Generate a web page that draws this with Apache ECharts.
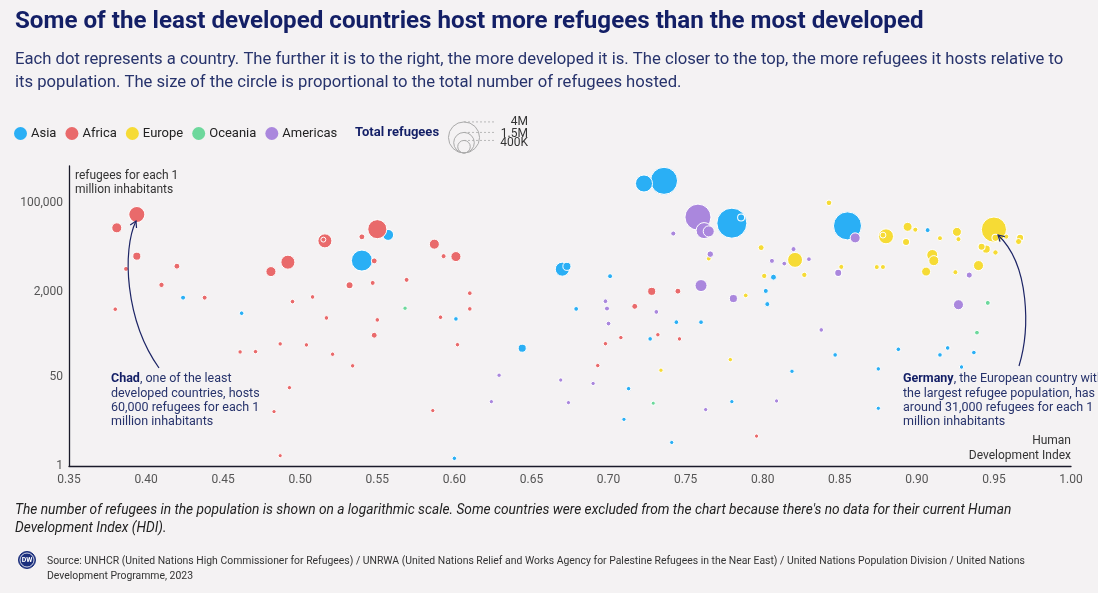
<!DOCTYPE html>
<html>
<head>
<meta charset="utf-8">
<script src="https://cdn.jsdelivr.net/npm/echarts@6/dist/echarts.min.js"></script>
<style>
html,body{margin:0;padding:0;background:#f4f2f3;}
#chart{width:1098px;height:593px;}
</style>
</head>
<body>
<div id="chart"></div>
<script>
// ---------- DATA: [Human Development Index, refugees per 1 million inhabitants, total refugees (thousands)] ----------
const continents = ['Asia', 'Africa', 'Europe', 'Oceania', 'Americas'];
const asia = [
  [0.723, 233000, 930], [0.736, 262000, 2900], [0.780, 41100, 3700], [0.786, 52500, 50],
  [0.855, 36500, 3150], [0.907, 30300, 5], [0.540, 8000, 1580], [0.557, 24600, 270],
  [0.670, 5490, 550], [0.673, 6210, 90], [0.701, 4040, 5], [0.424, 1580, 5],
  [0.462, 800, 2], [0.601, 623, 2], [0.600, 1.4, 1], [0.644, 173, 90],
  [0.679, 966, 3], [0.744, 540, 3], [0.760, 540, 3], [0.727, 260, 2],
  [0.802, 2120, 6], [0.803, 1190, 6], [0.807, 3870, 20], [0.847, 129, 2],
  [0.888, 165, 2], [0.915, 129, 2], [0.920, 175, 2], [0.937, 143, 2],
  [0.929, 76, 1], [0.875, 70, 1], [0.819, 63, 1], [0.713, 29.5, 1],
  [0.780, 16.7, 0.5], [0.875, 12.5, 0.3], [0.710, 7.7, 0.5], [0.741, 2.8, 0.3]
];
const africa = [
  [0.394, 60000, 800], [0.381, 33500, 200], [0.394, 9700, 90], [0.387, 5560, 5],
  [0.420, 6260, 20], [0.410, 2760, 10], [0.438, 1580, 5], [0.380, 953, 2],
  [0.481, 4940, 200], [0.492, 7460, 550], [0.516, 18950, 550], [0.515, 20000, 5],
  [0.540, 22600, 20], [0.550, 31600, 1240], [0.548, 7890, 20], [0.532, 2720, 50],
  [0.547, 3010, 5], [0.569, 3440, 5], [0.587, 16400, 200], [0.593, 9700, 6],
  [0.601, 9530, 200], [0.495, 1330, 2], [0.508, 1630, 2], [0.517, 651, 2],
  [0.550, 597, 2], [0.548, 305, 20], [0.591, 671, 2], [0.610, 1920, 3],
  [0.610, 966, 2], [0.602, 202, 1], [0.461, 147, 1], [0.471, 149, 1],
  [0.487, 209, 1], [0.504, 200, 1], [0.521, 133, 1], [0.534, 80, 1],
  [0.493, 30.8, 0.5], [0.483, 10.8, 0.3], [0.586, 11.3, 0.3], [0.487, 1.57, 0.1],
  [0.728, 2080, 90], [0.745, 2100, 20], [0.717, 1080, 20], [0.698, 211, 1],
  [0.708, 275, 1], [0.732, 312, 1], [0.746, 260, 1], [0.693, 81, 1], [0.796, 3.7, 0.2]
];
const europe = [
  [0.950, 31000, 2450], [0.951, 21600, 50], [0.958, 22800, 6], [0.967, 21600, 50],
  [0.966, 18400, 25], [0.942, 14700, 50], [0.945, 13200, 90], [0.951, 11400, 10],
  [0.880, 23100, 660], [0.878, 24400, 20], [0.894, 35000, 136], [0.899, 30900, 6],
  [0.893, 18100, 50], [0.915, 21300, 6], [0.926, 28100, 136], [0.927, 20400, 6],
  [0.910, 10200, 270], [0.911, 7970, 200], [0.906, 4940, 136], [0.925, 4810, 6],
  [0.940, 6430, 200], [0.874, 6020, 6], [0.878, 6040, 6], [0.843, 100000, 15],
  [0.799, 14100, 20], [0.821, 8250, 660], [0.801, 4090, 10], [0.827, 4280, 10],
  [0.851, 6070, 6], [0.765, 8700, 3], [0.789, 1740, 3], [0.779, 105, 1], [0.734, 66, 1]
];
const oceania = [
  [0.568, 995, 1], [0.729, 15.6, 0.1], [0.939, 342, 3], [0.946, 1256, 5]
];
const americas = [
  [0.758, 53500, 2650], [0.762, 29700, 790], [0.765, 28700, 270], [0.860, 21600, 200],
  [0.742, 26100, 6], [0.766, 10600, 35], [0.760, 2680, 350], [0.781, 1520, 90],
  [0.820, 13200, 6], [0.806, 7890, 6], [0.814, 7010, 3], [0.830, 8510, 3],
  [0.849, 4670, 50], [0.934, 4240, 25], [0.927, 1160, 200], [0.698, 1350, 3],
  [0.699, 980, 5], [0.700, 508, 3], [0.731, 847, 3], [0.838, 385, 2],
  [0.629, 53, 1], [0.624, 16.7, 0.3], [0.669, 43, 0.5], [0.690, 37, 0.5],
  [0.674, 16, 0.3], [0.763, 11.8, 0.3], [0.809, 17.2, 0.3]
];
const seriesData = [asia, africa, europe, oceania, americas];
const colors = ['#2aaff5', '#e96a6b', '#f6db35', '#6dd89c', '#aa87dd'];
const yTicks = [1, 50, 2000, 100000];
const sizeLegend = [4000, 1500, 400];          // thousands
const sizeLegendLabels = ['4M', '1.5M', '400K'];

// ---------- TEXT ----------
const titleText = 'Some of the least developed countries host more refugees than the most developed';
const subLines = [
  'Each dot represents a country. The further it is to the right, the more developed it is. The closer to the top, the more refugees it hosts relative to',
  'its population. The size of the circle is proportional to the total number of refugees hosted.'
];
const noteLines = [
  "The number of refugees in the population is shown on a logarithmic scale. Some countries were excluded from the chart because there's no data for their current Human",
  'Development Index (HDI).'
];
const sourceLines = [
  'Source: UNHCR (United Nations High Commissioner for Refugees) / UNRWA (United Nations Relief and Works Agency for Palestine Refugees in the Near East) / United Nations Population Division / United Nations',
  'Development Programme, 2023'
];

const FONT = 'Roboto, "Noto Sans", sans-serif';
const NAVY = '#131f66';
const NAVY2 = '#27336c';

const mctx = document.createElement('canvas').getContext('2d');
function fit(text, pre, target) {
  mctx.font = pre + ' 100px ' + FONT;
  return 100 * target / mctx.measureText(text).width;
}
const sizeOf = t => 4 + 0.428 * Math.sqrt(t);

const titleSize = fit(titleText, 'bold', 909);
const subSize = fit(subLines[0], 'normal', 1049);
const noteSize = fit(noteLines[0], 'italic', 997);
const srcSize = fit(sourceLines[0], 'normal', 979);

const series = continents.map((name, i) => ({
  name: name,
  type: 'scatter',
  data: seriesData[i].slice().sort((a, b) => b[2] - a[2]).map(d => [d[0], Math.log10(d[1]), d[2]]),
  symbolSize: v => sizeOf(v[2]),
  itemStyle: { color: colors[i], borderColor: '#ffffff', borderWidth: 1, opacity: 1 },
  emphasis: { disabled: true },
  z: 3
}));

function arrowHead(tx, ty, fx, fy) {
  const dx = tx - fx, dy = ty - fy, L = Math.hypot(dx, dy);
  const ux = dx / L, uy = dy / L, len = 7, a = Math.PI / 6;
  const p = ang => [tx - len * (ux * Math.cos(ang) - uy * Math.sin(ang)), ty - len * (ux * Math.sin(ang) + uy * Math.cos(ang))];
  return [p(a), [tx, ty], p(-a)];
}

const graphics = [];
graphics.push({ type: 'text', x: 15, y: 22, style: { text: titleText, font: 'bold ' + titleSize + 'px ' + FONT, fill: NAVY, textVerticalAlign: 'middle' } });
subLines.forEach((t, i) => graphics.push({ type: 'text', x: 15, y: 60 + 23 * i, style: { text: t, font: subSize + 'px ' + FONT, fill: NAVY2, textVerticalAlign: 'middle' } }));
noteLines.forEach((t, i) => graphics.push({ type: 'text', x: 15, y: 511 + 18 * i, style: { text: t, font: 'italic ' + noteSize + 'px ' + FONT, fill: '#222', textVerticalAlign: 'middle' } }));
sourceLines.forEach((t, i) => graphics.push({ type: 'text', x: 47, y: 561 + 15 * i, style: { text: t, font: srcSize + 'px ' + FONT, fill: '#333', textVerticalAlign: 'middle' } }));
// DW logo
graphics.push({ type: 'circle', shape: { cx: 27, cy: 560, r: 8.5 }, style: { fill: '#1b2f7d', stroke: '#1b2f7d', lineWidth: 1 } });
graphics.push({ type: 'circle', shape: { cx: 27, cy: 560, r: 7 }, style: { fill: 'none', stroke: '#ffffff', lineWidth: 0.8 } });
graphics.push({ type: 'text', x: 27, y: 560.5, style: { text: 'DW', font: 'bold 7px ' + FONT, fill: '#fff', textAlign: 'center', textVerticalAlign: 'middle' } });

// size legend
graphics.push({ type: 'text', x: 355, y: 133, style: { text: 'Total refugees', font: 'bold 13px ' + FONT, fill: NAVY, textVerticalAlign: 'middle' } });
const lbY = [122, 134, 143];
sizeLegend.forEach((t, i) => {
  const d = sizeOf(t), r = d / 2, top = 153 - d;
  graphics.push({ type: 'circle', shape: { cx: 464, cy: 153 - r, r: r }, style: { fill: 'none', stroke: '#aaaaaa', lineWidth: 1 } });
  graphics.push({ type: 'line', shape: { x1: 464, y1: top, x2: 494, y2: top }, style: { stroke: '#aaaaaa', lineWidth: 0.8, lineDash: [2, 2] } });
  graphics.push({ type: 'text', x: 528, y: lbY[i], style: { text: sizeLegendLabels[i], font: '12px ' + FONT, fill: '#333', textAlign: 'right', textVerticalAlign: 'middle' } });
});

// axis names
graphics.push({ type: 'text', x: 75, y: 169, style: { text: 'refugees for each 1\nmillion inhabitants', font: '12px ' + FONT, fill: '#333', lineHeight: 14 } });
graphics.push({ type: 'text', x: 1071, y: 433, style: { text: 'Human\nDevelopment Index', font: '12px ' + FONT, fill: '#333', lineHeight: 15, textAlign: 'right' } });

// annotations
const annRich = { b: { fontWeight: 'bold', fontSize: 12.5, fontFamily: FONT, fill: NAVY } };
graphics.push({ type: 'text', x: 111, y: 372, z: 10, style: { text: '{b|Chad}, one of the least\ndeveloped countries, hosts\n60,000 refugees for each 1\nmillion inhabitants', font: '12.5px ' + FONT, fill: NAVY2, lineHeight: 14.3, rich: annRich } });
graphics.push({ type: 'text', x: 903, y: 372, z: 10, style: { text: '{b|Germany}, the European country with\nthe largest refugee population, has\naround 31,000 refugees for each 1\nmillion inhabitants', font: '12.5px ' + FONT, fill: NAVY2, lineHeight: 14.3, rich: annRich } });
graphics.push({ type: 'bezierCurve', z: 10, shape: { x1: 159, y1: 368, cpx1: 125, cpy1: 320, cpx2: 122, cpy2: 250, x2: 136, y2: 221 }, style: { stroke: '#1d2566', lineWidth: 1.2, fill: 'none' } });
graphics.push({ type: 'polyline', z: 10, shape: { points: arrowHead(136, 221, 122, 250) }, style: { stroke: '#1d2566', lineWidth: 1.2, fill: 'none' } });
graphics.push({ type: 'bezierCurve', z: 10, shape: { x1: 1019, y1: 366, cpx1: 1030, cpy1: 330, cpx2: 1030, cpy2: 265, x2: 998, y2: 235 }, style: { stroke: '#1d2566', lineWidth: 1.2, fill: 'none' } });
graphics.push({ type: 'polyline', z: 10, shape: { points: arrowHead(998, 235, 1030, 265) }, style: { stroke: '#1d2566', lineWidth: 1.2, fill: 'none' } });

const chart = echarts.init(document.getElementById('chart'), null, { renderer: 'canvas' });
chart.setOption({
  backgroundColor: '#f4f2f3',
  animation: false,
  textStyle: { fontFamily: FONT },
  grid: { left: 69, right: 27, top: 166, bottom: 127, containLabel: false },
  legend: {
    data: continents, left: 14, top: 127, padding: 0, icon: 'circle', itemWidth: 13, itemHeight: 13, itemGap: 9,
    textStyle: { fontSize: 13, color: '#222', fontFamily: FONT, padding: [0, 0, 0, -1] },
    itemStyle: { borderWidth: 0 }, selectedMode: false
  },
  xAxis: {
    type: 'value', min: 0.35, max: 1.0, interval: 0.05,
    axisLine: { show: true, lineStyle: { color: '#1a1a2a', width: 1.3 } },
    axisTick: { show: false }, splitLine: { show: false },
    axisLabel: { color: '#555', fontSize: 12, margin: 8, formatter: v => v.toFixed(2), fontFamily: FONT }
  },
  yAxis: {
    type: 'value', min: 0, max: 5.70,
    axisLine: { show: true, lineStyle: { color: '#1a1a2a', width: 1.3 } },
    axisTick: { show: false }, splitLine: { show: false },
    axisLabel: {
      color: '#555', fontSize: 12, margin: 6, fontFamily: FONT,
      customValues: yTicks.map(v => Math.log10(v)),
      formatter: v => Math.round(Math.pow(10, v)).toLocaleString('en-US')
    }
  },
  series: series,
  graphic: graphics
});
</script>
</body>
</html>
